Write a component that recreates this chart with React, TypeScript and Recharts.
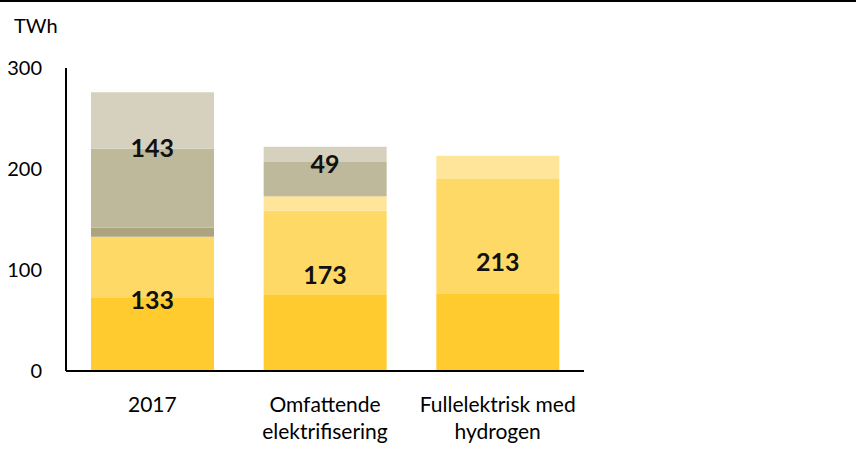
import { ComposedChart, Bar, Line, XAxis, YAxis, LabelList } from "recharts"

const categories = ["2017", "Omfattende elektrifisering", "Fullelektrisk med hydrogen"]

// lower (yellow) group
const deepYellow = [73, 76, 77]
const lightYellow = [60, 83, 113]
const paleYellow = [0, 14, 23]
// upper (grey) group
const olive = [9, 1, 0]
const greyOlive = [78, 33, 0]
const beige = [56, 15, 0]

const yTicks = [0, 100, 200, 300]

const data = categories.map((name, i) => {
  const low = deepYellow[i] + lightYellow[i] + paleYellow[i]
  const high = olive[i] + greyOlive[i] + beige[i]
  return {
    name,
    deepYellow: deepYellow[i],
    lightYellow: lightYellow[i],
    paleYellow: paleYellow[i],
    olive: olive[i],
    greyOlive: greyOlive[i],
    beige: beige[i],
    lowMid: low / 2,
    lowTotal: low,
    highMid: high > 0 ? low + high / 2 : null,
    highTotal: high > 0 ? high : null,
  }
})

const FONT = "Lato, 'Open Sans', sans-serif"

// small pixel nudges so the labels sit where the original has them
const lowNudge = [-4, -9, -1]
const highNudge = [-16, -7, 0]

function wrap(text: string, max: number) {
  const lines: string[] = []
  let cur = ""
  for (const w of text.split(" ")) {
    const next = cur ? cur + " " + w : w
    if (next.length > max && cur) {
      lines.push(cur)
      cur = w
    } else cur = next
  }
  if (cur) lines.push(cur)
  return lines
}

function CategoryTick(props: any) {
  const { x, y, payload } = props
  const lines = wrap(String(payload.value), 17)
  return (
    <text x={x} y={y + 34} textAnchor="middle" fill="#000" fontSize={21} fontFamily={FONT}>
      {lines.map((l, i) => (
        <tspan key={i} x={x} dy={i === 0 ? "0.355em" : 27}>
          {l}
        </tspan>
      ))}
    </text>
  )
}

function makeLabel(nudge: number[]) {
  return (props: any) => {
    const { x, y, value, index } = props
    if (value == null || y == null) return null
    return (
      <text
        x={x}
        y={y + nudge[index]}
        dy="0.355em"
        textAnchor="middle"
        fontSize={25}
        fontWeight={700}
        fontFamily={FONT}
        fill="#111"
      >
        {value}
      </text>
    )
  }
}

export default function App() {
  return (
    <div
      style={{
        position: "absolute",
        top: 0,
        left: 0,
        width: 856,
        height: 451,
        background: "#fff",
        borderTop: "2px solid #000",
        boxSizing: "border-box",
      }}
    >
      <div
        style={{
          position: "absolute",
          left: 14,
          top: 11,
          fontSize: 20,
          lineHeight: "24px",
          fontFamily: FONT,
          color: "#000",
        }}
      >
        TWh
      </div>
      <div style={{ position: "absolute", top: -2, left: 0 }}>
        <ComposedChart
          width={856}
          height={451}
          data={data}
          margin={{ top: 68, right: 272, bottom: 0, left: 0 }}
        >
          <XAxis
            dataKey="name"
            axisLine={{ stroke: "#000", strokeWidth: 2 }}
            tickLine={false}
            tickSize={0}
            tickMargin={0}
            height={80}
            tick={<CategoryTick />}
            interval={0}
          />
          <YAxis
            domain={[0, 300]}
            ticks={yTicks}
            width={66}
            axisLine={{ stroke: "#000", strokeWidth: 2 }}
            tickLine={false}
            tickSize={0}
            tickMargin={24}
            tick={{ fill: "#000", fontSize: 20, fontFamily: FONT }}
          />
          <Bar dataKey="deepYellow" stackId="s" fill="#FFCB2F" barSize={123} isAnimationActive={false} />
          <Bar dataKey="lightYellow" stackId="s" fill="#FFD966" barSize={123} isAnimationActive={false} />
          <Bar dataKey="paleYellow" stackId="s" fill="#FFE599" barSize={123} isAnimationActive={false} />
          <Bar dataKey="olive" stackId="s" fill="#ACA47F" barSize={123} isAnimationActive={false} />
          <Bar dataKey="greyOlive" stackId="s" fill="#BFB99B" barSize={123} isAnimationActive={false} />
          <Bar dataKey="beige" stackId="s" fill="#D6D1BE" barSize={123} isAnimationActive={false} />
          <Line dataKey="lowMid" stroke="none" dot={false} activeDot={false} isAnimationActive={false}>
            <LabelList dataKey="lowTotal" content={makeLabel(lowNudge)} />
          </Line>
          <Line dataKey="highMid" stroke="none" dot={false} activeDot={false} isAnimationActive={false}>
            <LabelList dataKey="highTotal" content={makeLabel(highNudge)} />
          </Line>
        </ComposedChart>
      </div>
    </div>
  )
}
